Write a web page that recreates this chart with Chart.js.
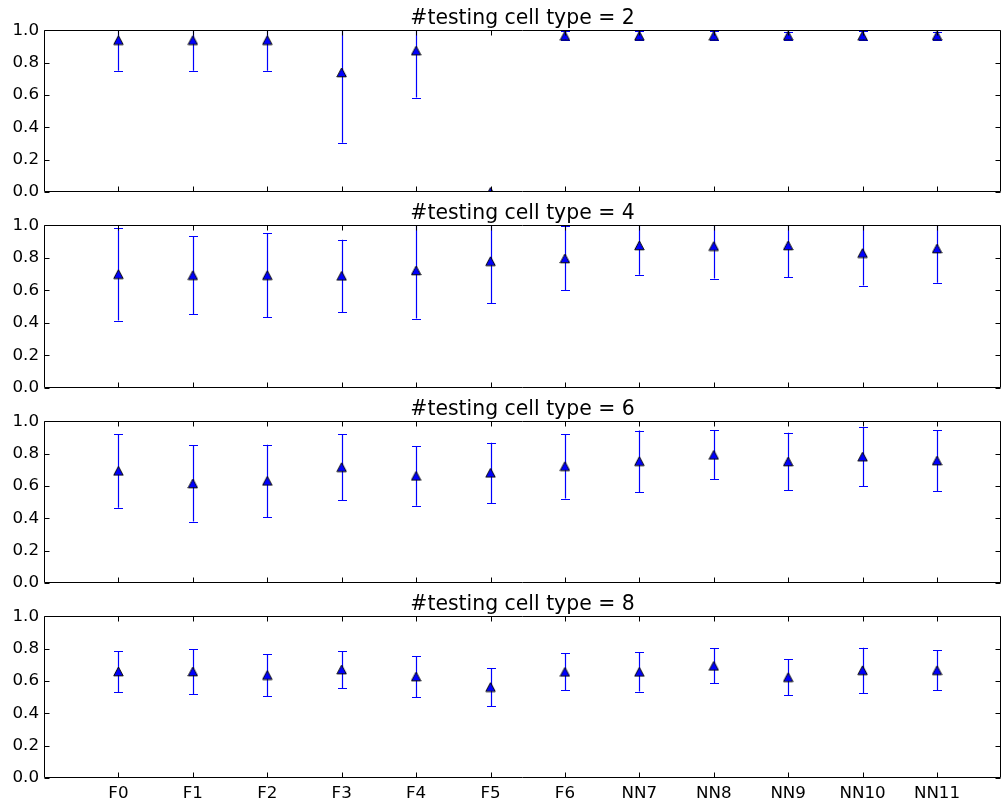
<!DOCTYPE html>
<html>
<head>
<meta charset="utf-8">
<script src="https://cdn.jsdelivr.net/npm/chart.js@4.4.1/dist/chart.umd.min.js"></script>
<style>
  html, body { margin: 0; padding: 0; background: #ffffff; }
  #wrap { position: relative; width: 1002px; height: 801px; overflow: hidden; background: #fff; }
  canvas { position: absolute; left: 0; }
</style>
</head>
<body>
<div id="wrap">
  <canvas id="c0"></canvas>
  <canvas id="c1"></canvas>
  <canvas id="c2"></canvas>
  <canvas id="c3"></canvas>
</div>
<script>
const categories = ['F0','F1','F2','F3','F4','F5','F6','NN7','NN8','NN9','NN10','NN11'];
const cellTypes = [2, 4, 6, 8];
const yTicks = [0.0, 0.2, 0.4, 0.6, 0.8, 1.0];

const mean2 = [0.94, 0.94, 0.94, 0.74, 0.875, 0.0, 0.967, 0.967, 0.967, 0.968, 0.967, 0.968];
const err2  = [0.19, 0.19, 0.19, 0.435, 0.29, 0.0, 0.027, 0.027, 0.027, 0.025, 0.027, 0.025];

const mean4 = [0.70, 0.694, 0.694, 0.69, 0.723, 0.78, 0.797, 0.877, 0.873, 0.877, 0.83, 0.858];
const err4  = [0.285, 0.24, 0.26, 0.222, 0.296, 0.26, 0.197, 0.18, 0.2, 0.197, 0.2, 0.21];

const mean6 = [0.694, 0.616, 0.632, 0.717, 0.663, 0.682, 0.723, 0.754, 0.793, 0.752, 0.782, 0.758];
const err6  = [0.228, 0.236, 0.224, 0.203, 0.185, 0.186, 0.2, 0.19, 0.152, 0.178, 0.183, 0.188];

const mean8 = [0.659, 0.659, 0.637, 0.671, 0.628, 0.563, 0.657, 0.657, 0.694, 0.624, 0.667, 0.667];
const err8  = [0.127, 0.14, 0.13, 0.115, 0.127, 0.117, 0.115, 0.122, 0.108, 0.112, 0.14, 0.124];

const means = [mean2, mean4, mean6, mean8];
const errs = [err2, err4, err6, err8];

// panel layout (canvas top, plot-area height, bottom axis height)
const panelTops = [0, 195, 391, 586];
const areaHeights = [162, 163, 162, 162];
const bottomHeights = [26, 26, 26, 26];

const FONT = "'DejaVu Sans', sans-serif";

// matplotlib-like triangle marker
function makeTriangle() {
  const c = document.createElement('canvas');
  c.width = 11; c.height = 11;
  const g = c.getContext('2d');
  g.beginPath();
  g.moveTo(5.5, 1);
  g.lineTo(10.2, 9.8);
  g.lineTo(0.8, 9.8);
  g.closePath();
  g.fillStyle = '#0000ff';
  g.fill();
  g.lineWidth = 1;
  g.strokeStyle = '#000000';
  g.stroke();
  return c;
}
const tri = makeTriangle();

const errorBarPlugin = {
  id: 'errorBars',
  beforeDatasetsDraw(chart, args, opts) {
    const { ctx, chartArea, scales } = chart;
    const m = opts.means, e = opts.errs;
    ctx.save();
    ctx.beginPath();
    ctx.rect(chartArea.left, chartArea.top, chartArea.right - chartArea.left, chartArea.bottom - chartArea.top);
    ctx.clip();
    ctx.strokeStyle = '#0000ff';
    ctx.lineWidth = 1.2;
    for (let i = 0; i < m.length; i++) {
      if (!e[i]) continue;
      const x = Math.round(scales.x.getPixelForValue(i)) + 0.5;
      const yt = scales.y.getPixelForValue(m[i] + e[i]);
      const yb = scales.y.getPixelForValue(m[i] - e[i]);
      ctx.beginPath();
      ctx.moveTo(x, yt); ctx.lineTo(x, yb);
      ctx.moveTo(x - 4.5, Math.round(yt) + 0.5); ctx.lineTo(x + 4.5, Math.round(yt) + 0.5);
      ctx.moveTo(x - 4.5, Math.round(yb) + 0.5); ctx.lineTo(x + 4.5, Math.round(yb) + 0.5);
      ctx.stroke();
    }
    ctx.restore();
  }
};

const framePlugin = {
  id: 'frame',
  afterDraw(chart) {
    const { ctx, chartArea: a, scales } = chart;
    ctx.save();
    ctx.strokeStyle = '#000000';
    ctx.lineWidth = 1;
    const L = Math.round(a.left) + 0.5, R = Math.round(a.right) - 0.5;
    const T = Math.round(a.top) + 0.5, B = Math.round(a.bottom) - 0.5;
    ctx.beginPath();
    ctx.rect(L, T, R - L, B - T);
    ctx.stroke();
    ctx.beginPath();
    for (let i = 0; i < categories.length; i++) {
      const x = Math.round(scales.x.getPixelForValue(i)) + 0.5;
      ctx.moveTo(x, B); ctx.lineTo(x, B - 5);
      ctx.moveTo(x, T); ctx.lineTo(x, T + 5);
    }
    for (const v of yTicks) {
      const y = Math.round(scales.y.getPixelForValue(v)) + 0.5;
      ctx.moveTo(L, y); ctx.lineTo(L + 5, y);
      ctx.moveTo(R, y); ctx.lineTo(R - 5, y);
    }
    ctx.stroke();
    ctx.restore();
  }
};

for (let k = 0; k < 4; k++) {
  const cv = document.getElementById('c' + k);
  const h = 30 + areaHeights[k] + bottomHeights[k];
  cv.width = 1002; cv.height = h;
  cv.style.top = panelTops[k] + 'px';
  cv.style.width = '1002px'; cv.style.height = h + 'px';
  const showX = (k === 3);
  new Chart(cv, {
    type: 'line',
    data: {
      datasets: [{
        data: means[k].map((v, i) => ({ x: i, y: v })),
        showLine: false,
        pointStyle: tri,
        pointRadius: 5,
        pointHoverRadius: 5,
        backgroundColor: '#0000ff',
        borderColor: '#000000'
      }]
    },
    options: {
      responsive: false,
      animation: false,
      devicePixelRatio: 1,
      layout: { autoPadding: false, padding: { left: 0, right: 1, top: 0, bottom: 0 } },
      plugins: {
        legend: { display: false },
        tooltip: { enabled: false },
        title: {
          display: true,
          fullSize: false,
          text: '#testing cell type = ' + cellTypes[k],
          color: '#000000',
          font: { family: FONT, size: 20.4, weight: 'normal', lineHeight: 1.2 },
          padding: { top: 6, bottom: 0 }
        },
        errorBars: { means: means[k], errs: errs[k] }
      },
      scales: {
        x: {
          type: 'linear',
          min: -1,
          max: 11.86,
          grid: { display: false, drawTicks: false },
          border: { display: false },
          afterBuildTicks: (s) => { s.ticks = categories.map((c, i) => ({ value: i })); },
          afterFit: (s) => { s.height = bottomHeights[k]; },
          ticks: {
            display: showX,
            autoSkip: false,
            maxRotation: 0,
            padding: 6,
            color: '#000000',
            font: { family: FONT, size: 16.7 },
            callback: (v) => categories[v]
          }
        },
        y: {
          min: 0,
          max: 1,
          grid: { display: false, drawTicks: false },
          border: { display: false },
          afterBuildTicks: (s) => { s.ticks = yTicks.map(v => ({ value: v })); },
          afterFit: (s) => { s.width = 44; },
          ticks: {
            padding: 5,
            color: '#000000',
            font: { family: FONT, size: 16.7 },
            callback: (v) => Number(v).toFixed(1)
          }
        }
      }
    },
    plugins: [errorBarPlugin, framePlugin]
  });
}
</script>
</body>
</html>
